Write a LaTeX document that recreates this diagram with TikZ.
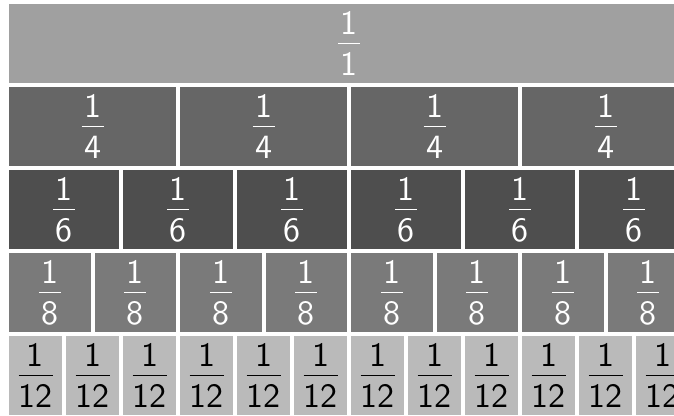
\documentclass[tikz,border=0pt]{standalone}
\usepackage{fontspec}
\setsansfont{Latin Modern Sans}
\definecolor{rowAcolor}{RGB}{160,160,160}
\definecolor{rowBcolor}{RGB}{102,102,102}
\definecolor{rowCcolor}{RGB}{78,78,78}
\definecolor{rowDcolor}{RGB}{122,122,122}
\definecolor{rowEcolor}{RGB}{186,186,186}
\tikzset{
  digit/.style={font=\fontsize{10}{12}\sffamily\selectfont, scale=3.4, inner sep=0pt, anchor=base},
  cellbox/.style={draw=white, line width=4pt}
}

\begin{document}
\begin{tikzpicture}[x=1pt,y=-1pt]

  % --- Page frame, the bars run past the right and bottom edges ---
  \useasboundingbox (0,0) rectangle (674,415);
  \clip (0,0) rectangle (674,415);

  % --- Fraction wall: one row per denominator, 684 wide, 83 high ---
  \foreach \n/\fillc/\textc [count=\r from 0] in
      {1/rowAcolor/white,4/rowBcolor/white,6/rowCcolor/white,8/rowDcolor/white,12/rowEcolor/black} {
    \pgfmathsetmacro\w{684/\n}
    \pgfmathsetmacro\rw{\n<10 ? 11 : 17}
    \foreach \k in {1,...,\n} {
      \pgfmathsetmacro\cx{7+(\k-0.5)*\w}
      \pgfmathsetmacro\cy{2+(\r+0.5)*83}
      \filldraw[cellbox, fill=\fillc] ({7+(\k-1)*\w},{2+\r*83}) rectangle ++(\w,83);
      % numerator, bar, denominator
      \node[digit, text=\textc] (num-\n-\k) at (\cx,\cy-9.5) {1};
      \node[digit, text=\textc] (den-\n-\k) at (\cx,\cy+31.5) {\n};
      \draw[\textc, line width=1.6pt] (\cx-\rw,\cy) -- (\cx+\rw,\cy);
    }
  }

\end{tikzpicture}
\end{document}
